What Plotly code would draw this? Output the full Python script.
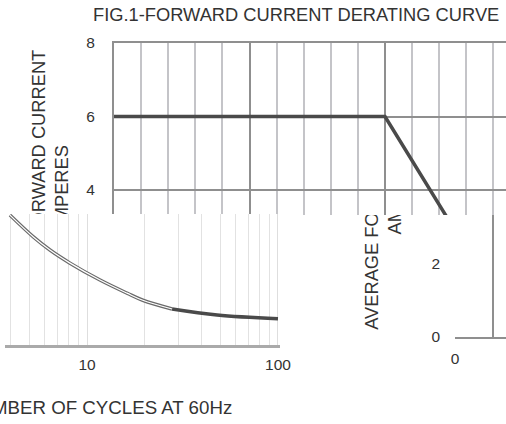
import plotly.graph_objects as go

W, H = 506, 424


def fx(p):
    return p / W


def fy(p):
    return (H - p) / H


# ---------------- data ----------------
# Chart A: forward current derating curve
derate_x = [0, 50, 75]
derate_y = [6, 6, 0]
a_yticks = [4, 6, 8]

# Chart C: surge current vs number of cycles at 60Hz
cycles = [3.95, 5.24, 6.4, 8.15, 11.7, 16.2, 19.6, 27.9, 48, 100]
surge = [238, 198, 174, 150, 119, 95, 82, 66, 55, 48]
c_xticks = [10, 100]
c_minor = [4, 5, 6, 7, 8, 9, 20, 30, 40, 50, 60, 70, 80, 90]

# Chart B (right fragment) ticks
b_yticks = [0, 2]
b_xticks = [0]

# texts
fig_title = "FIG.1-FORWARD CURRENT DERATING CURVE"
y_title = "AVERAGE FORWARD CURRENT<br>AMPERES"
c_xtitle = "NUMBER OF CYCLES AT 60Hz"

FONT = "Liberation Sans, Arial, sans-serif"
TXT = "#333333"
DARK_GRID = "#8f8f8f"
LIGHT_GRID = "#c4c4c8"
LINE = "#4a4a4a"

fig = go.Figure()

# empty traces to create every subplot
for i in ["", "2", "3", "4", "5"]:
    fig.add_trace(go.Scatter(x=[], y=[], xaxis="x" + i, yaxis="y" + i,
                             showlegend=False, hoverinfo="skip"))

# chart A derating line
fig.add_trace(go.Scatter(x=derate_x, y=derate_y, xaxis="x2", yaxis="y2",
                         mode="lines", line=dict(color=LINE, width=3.5),
                         showlegend=False, cliponaxis=True))

# chart C surge curve: hollow first part, solid second part
n_split = 8
fig.add_trace(go.Scatter(x=cycles[:n_split], y=surge[:n_split], xaxis="x4", yaxis="y4",
                         mode="lines", line=dict(color="#6a6a6a", width=3.5, shape="spline"),
                         showlegend=False))
fig.add_trace(go.Scatter(x=cycles[:n_split], y=surge[:n_split], xaxis="x4", yaxis="y4",
                         mode="lines", line=dict(color="#ffffff", width=1.2, shape="spline"),
                         showlegend=False))
fig.add_trace(go.Scatter(x=cycles[n_split - 1:], y=surge[n_split - 1:], xaxis="x4", yaxis="y4",
                         mode="lines", line=dict(color=LINE, width=3.5, shape="spline"),
                         showlegend=False))

a_ydom = [fy(340), fy(45)]
tA_left = 73
tB_left = tA_left + 333

hidden = dict(showticklabels=False, showgrid=False, zeroline=False, showline=False, ticks="")

fig.update_layout(
    width=W, height=H,
    margin=dict(l=0, r=0, t=0, b=0),
    paper_bgcolor="white", plot_bgcolor="white",
    template="none",
    font=dict(family=FONT, color=TXT, size=15),
    showlegend=False,
    # T_B : title of the right fragment (drawn first, lowest)
    xaxis=dict(domain=[fx(tB_left), fx(tB_left + 2)], range=[0, 1], anchor="y", **hidden),
    yaxis=dict(domain=a_ydom, range=[0, 8], anchor="x", tickmode="array",
               tickvals=[4], ticktext=[y_title], tickangle=-90,
               tickfont=dict(size=18.3, color=TXT), showgrid=False, zeroline=False,
               showline=False, ticks=""),
    # A : main derating chart (upper part)
    xaxis2=dict(domain=[fx(114), 1], range=[0, (W - 114) / 5.42], anchor="y2",
                side="top", showticklabels=False, ticks="",
                tickmode="linear", tick0=0, dtick=25,
                showgrid=True, gridcolor=DARK_GRID, gridwidth=2,
                minor=dict(tickmode="linear", tick0=0, dtick=5, showgrid=True,
                           gridcolor=LIGHT_GRID, gridwidth=2),
                zeroline=False, showline=True, linecolor=DARK_GRID, linewidth=2),
    yaxis2=dict(domain=[fy(215), fy(43)], range=[(337 - 215) / 36.75, 8], anchor="x2",
                tickmode="array", tickvals=a_yticks, ticks="", ticklabelstandoff=14,
                tickfont=dict(size=15.5, color=TXT),
                showgrid=True, gridcolor=DARK_GRID, gridwidth=2,
                zeroline=False, showline=True, linecolor=DARK_GRID, linewidth=2),
    # T_A : title of the main chart
    xaxis3=dict(domain=[fx(tA_left), fx(tA_left + 2)], range=[0, 1], anchor="y3", **hidden),
    yaxis3=dict(domain=a_ydom, range=[0, 8], anchor="x3", tickmode="array",
                tickvals=[4], ticktext=[y_title], tickangle=-90,
                tickfont=dict(size=18.3, color=TXT), showgrid=False, zeroline=False,
                showline=False, ticks=""),
    # C : surge chart (lower left)
    xaxis4=dict(domain=[fx(5), fx(280)], type="log", range=[0.5707, 2.0105], anchor="y4",
                tickmode="array", tickvals=c_xticks, ticktext=["10", "100"], ticks="",
                ticklabelstandoff=4, tickfont=dict(size=15.5, color=TXT),
                showgrid=True, gridcolor="#dedede", gridwidth=1,
                minor=dict(tickmode="array", tickvals=c_minor, showgrid=True,
                           gridcolor="#e2e2e2", gridwidth=1),
                zeroline=False, showline=True, linecolor="#aaaaaa", linewidth=2.5),
    yaxis4=dict(domain=[fy(345), fy(214)], range=[0, 240], anchor="x4", **hidden),
    # B : right fragment
    xaxis5=dict(domain=[fx(455), 1], range=[0, (W - 455) / 5.42], anchor="y5",
                tickmode="array", tickvals=b_xticks, ticks="", ticklabelstandoff=6,
                tickfont=dict(size=15.5, color=TXT), showgrid=False,
                minor=dict(tickmode="array", tickvals=[7], showgrid=True,
                           gridcolor=DARK_GRID, gridwidth=2),
                zeroline=False, showline=True, linecolor=DARK_GRID, linewidth=2),
    yaxis5=dict(domain=[fy(337), fy(215)], range=[0, (337 - 215) / 36.75], anchor="x5",
                tickmode="array", tickvals=b_yticks, ticks="", ticklabelstandoff=14,
                tickfont=dict(size=15.5, color=TXT), showgrid=False, zeroline=False,
                showline=False),
    annotations=[
        dict(text=fig_title, xref="paper", yref="paper", x=fx(295.5), y=fy(15),
             xanchor="center", yanchor="middle", showarrow=False,
             font=dict(size=18.3, color=TXT, family=FONT)),
        dict(text=c_xtitle, xref="paper", yref="paper", x=fx(234), y=fy(407),
             xanchor="right", yanchor="middle", showarrow=False,
             font=dict(size=18.7, color=TXT, family=FONT)),
    ],
)

fig.write_html("out.html", config={"displayModeBar": False},
               post_script="document.body.style.margin='0';document.body.style.overflow='hidden';")
